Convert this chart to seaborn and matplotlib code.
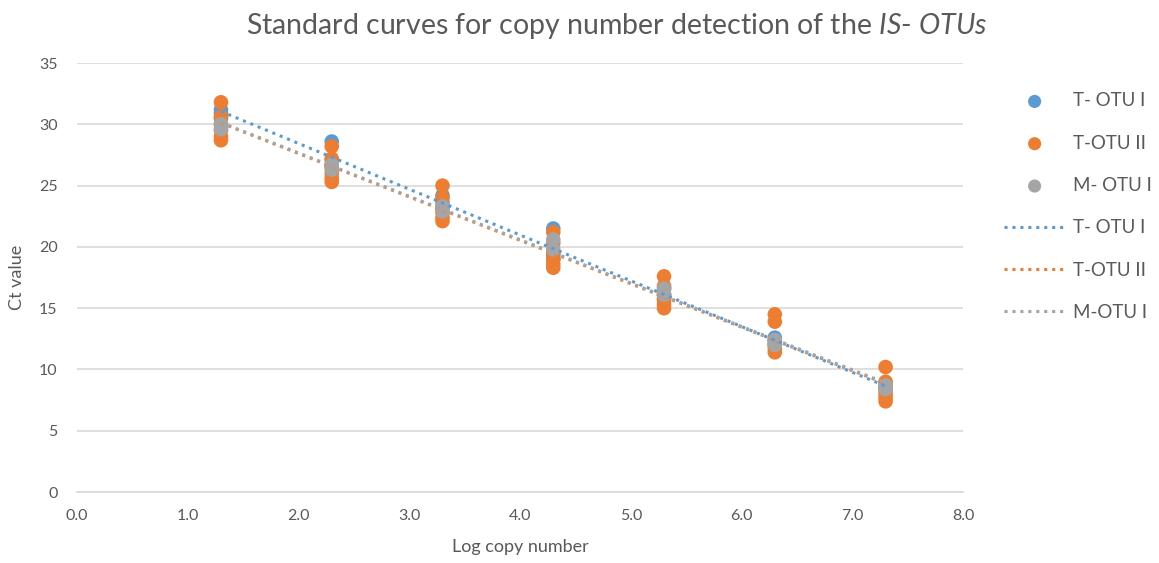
import numpy as np
import pandas as pd
import matplotlib
matplotlib.use("Agg")
import matplotlib.pyplot as plt
import seaborn as sns

# log copy number of each dilution step
log_copies = [1.3, 2.3, 3.3, 4.3, 5.3, 6.3, 7.3]

# Ct replicates per dilution step
t_otu1_ct = [
    [30.5, 30.9, 31.2],
    [26.6, 27.1, 28.6],
    [23.2, 23.6, 24.2],
    [19.0, 19.3, 21.5],
    [15.8, 16.1, 16.6],
    [12.0, 12.3, 12.6],
    [8.3, 8.6, 8.9],
]
t_otu2_ct = [
    [28.7, 29.0, 29.5, 30.0, 30.6, 31.8],
    [25.3, 25.6, 26.0, 26.5, 27.2, 28.2],
    [22.1, 22.4, 22.8, 23.2, 24.0, 25.0],
    [18.3, 18.6, 19.0, 19.5, 20.3, 21.2],
    [15.0, 15.3, 15.7, 16.1, 16.8, 17.6],
    [11.4, 11.7, 12.0, 12.3, 13.9, 14.5],
    [7.4, 7.7, 8.0, 8.5, 9.0, 10.2],
]
m_otu1_ct = [
    [29.6, 30.0],
    [26.3, 26.7],
    [22.9, 23.3],
    [19.8, 20.6],
    [16.1, 16.6],
    [12.0, 12.4],
    [8.4, 8.7],
]

series_names = ["T- OTU I", "T-OTU II", "M- OTU I"]
trend_names = ["T- OTU I", "T-OTU II", "M-OTU I"]
colors = ["#5B9BD5", "#ED7D31", "#A5A5A5"]


def to_frame(values, name):
    rows = []
    for x, reps in zip(log_copies, values):
        for ct in reps:
            rows.append({"log_copy": x, "ct": ct, "series": name})
    return pd.DataFrame(rows)


df = pd.concat([
    to_frame(t_otu1_ct, series_names[0]),
    to_frame(t_otu2_ct, series_names[1]),
    to_frame(m_otu1_ct, series_names[2]),
], ignore_index=True)

sns.set_theme(style="white")
plt.rcParams["font.family"] = ["Lato", "DejaVu Sans"]
plt.rcParams["mathtext.fontset"] = "custom"
plt.rcParams["mathtext.rm"] = "Lato"
plt.rcParams["mathtext.it"] = "Lato:italic"

text_col = "#595959"
fig, ax = plt.subplots(figsize=(11.59, 5.63), dpi=100)
fig.subplots_adjust(left=0.0664, right=0.831, top=0.888, bottom=0.126)

for name, col in zip(series_names, colors):
    sub = df[df["series"] == name]
    sns.scatterplot(data=sub, x="log_copy", y="ct", color=col, s=110,
                    edgecolor="none", ax=ax, zorder=3, label=name)

# linear trendlines
for name, tname, col in zip(series_names, trend_names, colors):
    sub = df[df["series"] == name]
    k, b = np.polyfit(sub["log_copy"], sub["ct"], 1)
    xs = np.array([min(log_copies), max(log_copies)])
    ax.plot(xs, k * xs + b, linestyle=(0, (1, 1.6)), color=col, lw=2.2,
            zorder=4, label=tname)

ax.set_xlim(0, 8)
ax.set_ylim(0, 35)
ax.set_xticks(np.arange(0, 8.01, 1.0))
ax.set_xticklabels([f"{v:.1f}" for v in np.arange(0, 8.01, 1.0)])
ax.set_yticks(np.arange(0, 36, 5))
ax.yaxis.grid(True, color="#D9D9D9", lw=1.2)
ax.set_axisbelow(True)
for sp in ["top", "right", "left"]:
    ax.spines[sp].set_visible(False)
ax.spines["bottom"].set_color("#D9D9D9")
ax.spines["bottom"].set_linewidth(1.2)
ax.tick_params(axis="x", length=0, labelsize=11.5, colors=text_col, pad=12)
ax.tick_params(axis="y", length=0, labelsize=11.5, colors=text_col, pad=14)

ax.set_xlabel("Log copy number", fontsize=13, color=text_col, labelpad=12)
ax.set_ylabel("Ct value", fontsize=13, color=text_col, labelpad=10)

fig.text(0.532, 0.953, r"Standard curves for copy number detection of the $IS$- $OTUs$",
         ha="center", va="center", fontsize=20.5, color=text_col)

ax.legend_.remove()
h, l = ax.get_legend_handles_labels()
leg = fig.legend(h, l, loc="upper left", bbox_to_anchor=(0.866, 0.836),
                 frameon=False, fontsize=13.5, labelspacing=1.35,
                 borderpad=0, borderaxespad=0,
                 handlelength=3.3, handletextpad=0.4, markerscale=0.9)
for t in leg.get_texts():
    t.set_color(text_col)

plt.savefig("out.png", dpi=100)
plt.close()
